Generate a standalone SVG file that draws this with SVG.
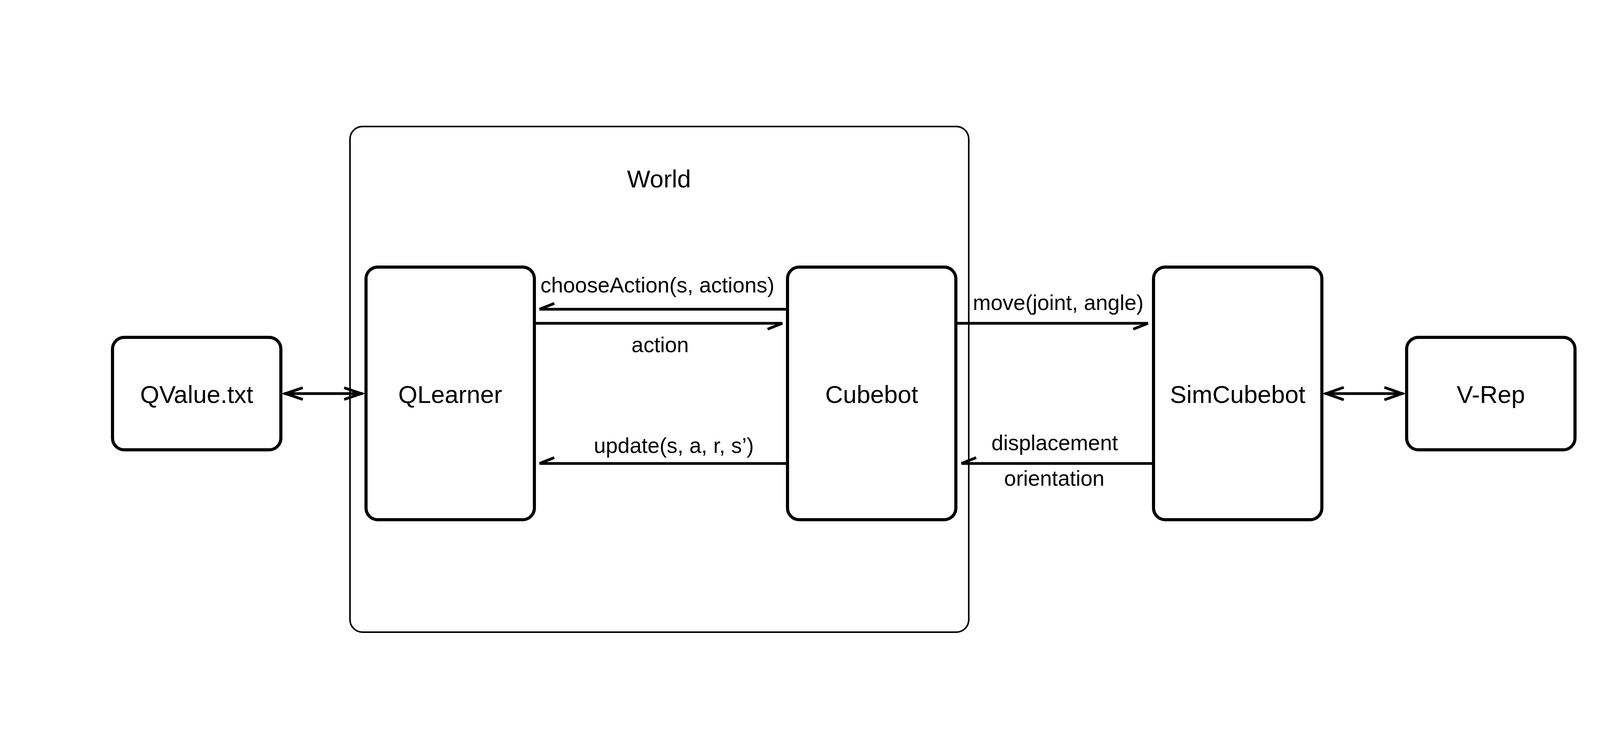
<svg xmlns="http://www.w3.org/2000/svg" width="4320" height="1908" viewBox="0 0 4320 1908">
  <style>
    .node { fill: #ffffff; stroke: #000000; stroke-width: 8; }
    .frame { fill: none; stroke: #000000; stroke-width: 4; }
    .lbl { font-family: "Liberation Sans", Arial, Helvetica, sans-serif; font-size: 63px; fill: #000000; text-anchor: middle; }
    .elbl { font-family: "Liberation Sans", Arial, Helvetica, sans-serif; font-size: 55px; fill: #000000; text-anchor: middle; }
    .edge { fill: none; stroke: #000000; stroke-width: 7; stroke-linecap: butt; stroke-linejoin: miter; }
  </style>
  <rect width="4320" height="1908" fill="#ffffff"/>

  <g id="world">
    <rect class="frame" x="896" y="324" width="1584" height="1295" rx="32" ry="32"/>
    <text class="lbl" x="1687" y="480">World</text>
  </g>

  <g id="qvalue">
    <rect class="node" x="288" y="864" width="431" height="288" rx="30" ry="30"/>
    <text class="lbl" x="503.5" y="1032">QValue.txt</text>
  </g>

  <g id="qlearner">
    <rect class="node" x="937" y="684" width="431" height="647" rx="30" ry="30"/>
    <text class="lbl" x="1152.5" y="1032">QLearner</text>
  </g>

  <g id="cubebot">
    <rect class="node" x="2016" y="684" width="431" height="647" rx="30" ry="30"/>
    <text class="lbl" x="2231.5" y="1032">Cubebot</text>
  </g>

  <g id="simcubebot">
    <rect class="node" x="2953" y="684" width="431" height="647" rx="30" ry="30"/>
    <text class="lbl" x="3168.5" y="1032">SimCubebot</text>
  </g>

  <g id="vrep">
    <rect class="node" x="3601" y="864" width="431" height="288" rx="30" ry="30"/>
    <text class="lbl" x="3816.5" y="1032">V-Rep</text>
  </g>

  <g id="connectors">
    <!-- QValue.txt <-> QLearner -->
    <path class="edge" d="M727 1008 L929 1008"/>
    <path class="edge" d="M775 993 L731 1008 L775 1023"/>
    <path class="edge" d="M881 993 L925 1008 L881 1023"/>

    <!-- chooseAction: Cubebot -> QLearner -->
    <path class="edge" d="M2012 792 L1381 792"/>
    <path class="edge" d="M1381 792 L1419 777"/>
    <text class="elbl" x="1683" y="749">chooseAction(s, actions)</text>

    <!-- action: QLearner -> Cubebot -->
    <path class="edge" d="M1372 828 L2003 828"/>
    <path class="edge" d="M2003 828 L1965 843"/>
    <text class="elbl" x="1690" y="902">action</text>

    <!-- update: Cubebot -> QLearner -->
    <path class="edge" d="M2012 1187 L1381 1187"/>
    <path class="edge" d="M1381 1187 L1419 1172"/>
    <text class="elbl" x="1725" y="1160">update(s, a, r, s’)</text>

    <!-- move: Cubebot -> SimCubebot -->
    <path class="edge" d="M2451 828 L2939 828"/>
    <path class="edge" d="M2939 828 L2901 843"/>
    <text class="elbl" x="2709" y="794">move(joint, angle)</text>

    <!-- displacement / orientation: SimCubebot -> Cubebot -->
    <path class="edge" d="M2949 1187 L2461 1187"/>
    <path class="edge" d="M2461 1187 L2499 1172"/>
    <text class="elbl" x="2700" y="1153">displacement</text>
    <text class="elbl" x="2699" y="1244">orientation</text>

    <!-- SimCubebot <-> V-Rep -->
    <path class="edge" d="M3391 1008 L3593 1008"/>
    <path class="edge" d="M3440 992 L3395 1008 L3440 1024"/>
    <path class="edge" d="M3544 992 L3589 1008 L3544 1024"/>
  </g>
</svg>
